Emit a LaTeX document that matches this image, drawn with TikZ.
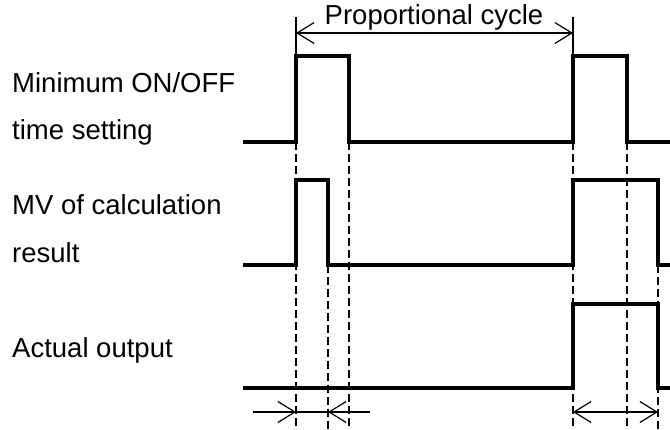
\documentclass[tikz,border=0pt]{standalone}
\usepackage{fontspec}
\setmainfont{Liberation Sans}
\usetikzlibrary{arrows.meta}
\tikzset{
  signal/.style={black,line width=3.3pt,line join=miter},
  guide/.style={black,line width=1.4pt,dash pattern=on 8pt off 4pt},
  span/.style={black,line width=1.2pt},
  barb/.tip={Straight Barb[length=17pt,width=21pt,line width=1.2pt]},
  dim/.style={span,barb-barb},
  lab/.style={font=\fontsize{27.5}{33}\selectfont,anchor=base west,inner sep=0pt},
}

\begin{document}
\begin{tikzpicture}[x=1pt,y=-1pt]
  \path[use as bounding box] (0,0) rectangle (670,430);

  % labels
  \node[lab] (minA) at (12,93) {Minimum ON/OFF};
  \node[lab] (minB) at (12,140) {time setting};
  \node[lab] (mvA) at (12,215) {MV of calculation};
  \node[lab] (mvB) at (12,263) {result};
  \node[lab] (act) at (12,358) {Actual output};

  % waveforms
  \draw[signal] (243,142) -- (296,142) -- (296,56) -- (349,56) -- (349,142)
    -- (573,142) -- (573,56) -- (627,56) -- (627,142) -- (670,142);
  \draw[signal] (243,265) -- (296,265) -- (296,180) -- (328,180) -- (328,265)
    -- (573,265) -- (573,180) -- (658,180) -- (658,265) -- (670,265);
  \draw[signal] (243,388) -- (573,388) -- (573,304) -- (658,304) -- (658,388) -- (670,388);

  % timing guides
  \foreach \x in {296,349,573,627}
    \draw[guide] (\x,142) -- (\x,430);
  \foreach \x in {328,658}
    \draw[guide] (\x,265) -- (\x,430);

  % proportional cycle
  \coordinate (cycL) at (296,33);
  \coordinate (cycR) at (573,33);
  \draw[span] (296,17) -- (296,56);
  \draw[span] (573,17) -- (573,56);
  \draw[dim] (cycL) -- (cycR);
  \node[font=\fontsize{27.5}{33}\selectfont,anchor=base,inner sep=0pt] (cyc) at (434,25)
    {Proportional cycle};

  % minimum time spans
  \coordinate (minL) at (253,412);
  \coordinate (minS) at (296,412);
  \coordinate (minE) at (328,412);
  \coordinate (minR) at (370,412);
  \draw[span,-barb] (minL) -- (minS);
  \draw[span] (minS) -- (minE);
  \draw[span,-barb] (minR) -- (minE);
  \coordinate (outL) at (573,412);
  \coordinate (outR) at (658,412);
  \draw[dim] (outL) -- (outR);
\end{tikzpicture}
\end{document}
